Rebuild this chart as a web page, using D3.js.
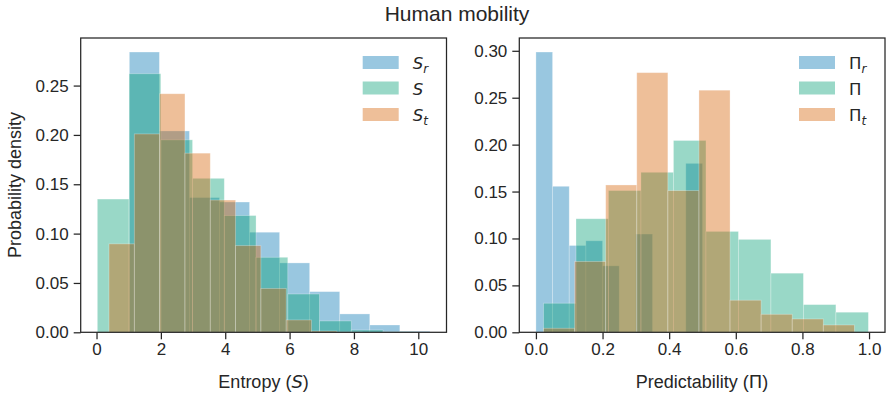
<!DOCTYPE html>
<html>
<head>
<meta charset="utf-8">
<script src="https://cdn.jsdelivr.net/npm/d3@7"></script>
<style>
  body { margin: 0; background: #fff; }
  text { fill: #262626; }
</style>
</head>
<body>
<svg id="fig" width="886" height="394"></svg>
<script>
// Series colours and legend labels (base symbol + subscript)
const seriesColors = ["#0072B2", "#009E73", "#D55E00"];
const entropyLegendBase = ["S", "S", "S"];
const entropyLegendSub = ["r", "", "t"];
const predLegendBase = ["\u03A0", "\u03A0", "\u03A0"];
const predLegendSub = ["r", "", "t"];

// Entropy histograms: [first edge, last edge] and fraction of users per bin
const entropySrRange = [1.02, 10.36];
const entropySrHeights = [0.284, 0.204, 0.1365, 0.132, 0.1014, 0.0703, 0.0412, 0.0186, 0.0074, 0.001];
const entropySRange = [0.025, 9.89];
const entropySHeights = [0.135, 0.262, 0.195, 0.156, 0.1183, 0.076, 0.0388, 0.0115, 0.0023, 0.0005];
const entropyStRange = [0.388, 8.255];
const entropyStHeights = [0.0896, 0.201, 0.2417, 0.1815, 0.134, 0.0878, 0.0444, 0.0125, 0.0013, 0.0003];

// Predictability histograms
const predPrRange = [0.0, 0.5];
const predPrHeights = [0.2987, 0.1556, 0.0925, 0.0975, 0.0708, 0.0, 0.1047, 0.0, 0.0, 0.18];
const predPRange = [0.0228, 0.998];
const predPHeights = [0.031, 0.121, 0.151, 0.1705, 0.2044, 0.1075, 0.099, 0.063, 0.0295, 0.0214];
const predPtRange = [0.0228, 0.956];
const predPtHeights = [0.0043, 0.0755, 0.157, 0.2767, 0.151, 0.258, 0.0342, 0.0192, 0.0142, 0.0078];

// Tick values
const entropyXTicks = [0, 2, 4, 6, 8, 10];
const entropyYTicks = [0, 0.05, 0.10, 0.15, 0.20, 0.25];
const predXTicks = [0, 0.2, 0.4, 0.6, 0.8, 1.0];
const predYTicks = [0, 0.05, 0.10, 0.15, 0.20, 0.25, 0.30];

const svg = d3.select("#fig");
const ink = "#262626";
const sansFont = "Liberation Sans, Arial, sans-serif";

svg.append("text")
  .attr("x", 457).attr("y", 21)
  .attr("text-anchor", "middle")
  .style("font-family", sansFont).style("font-size", "21px")
  .text("Human mobility");

function drawPanel(cfg) {
  const { left, right, top, bottom, series, xTicks, yTicks, xFmt, yFmt } = cfg;
  const g = svg.append("g");

  const lo = d3.min(series, s => s.range[0]);
  const hi = d3.max(series, s => s.range[1]);
  const pad = (hi - lo) * 0.05;
  const x = d3.scaleLinear().domain([lo - pad, hi + pad]).range([left, right]);
  const ymax = d3.max(series, s => d3.max(s.heights)) * 1.05;
  const y = d3.scaleLinear().domain([0, ymax]).range([bottom, top]);

  series.forEach((s, i) => {
    const n = s.heights.length;
    const edges = d3.range(n + 1).map(k => s.range[0] + k * (s.range[1] - s.range[0]) / n);
    g.append("g").selectAll("rect")
      .data(s.heights)
      .join("rect")
      .attr("x", (h, k) => x(edges[k]))
      .attr("width", (h, k) => x(edges[k + 1]) - x(edges[k]))
      .attr("y", h => y(h))
      .attr("height", h => y(0) - y(h))
      .attr("fill", seriesColors[i])
      .attr("fill-opacity", 0.4)
      .attr("stroke", "#fff")
      .attr("stroke-opacity", 0.35)
      .attr("stroke-width", 0.8);
  });

  const xAxis = g.append("g").attr("transform", `translate(0,${bottom})`)
    .call(d3.axisBottom(x).tickValues(xTicks).tickFormat(xFmt).tickSize(7).tickPadding(4));
  const yAxis = g.append("g").attr("transform", `translate(${left},0)`)
    .call(d3.axisLeft(y).tickValues(yTicks).tickFormat(yFmt).tickSize(7).tickPadding(5));
  [xAxis, yAxis].forEach(a => {
    a.select(".domain").remove();
    a.selectAll(".tick line").attr("stroke", ink).attr("stroke-width", 1.25);
    a.selectAll(".tick text")
      .style("font-family", sansFont).style("font-size", "17px").attr("fill", ink);
  });

  g.append("rect")
    .attr("x", left).attr("y", top)
    .attr("width", right - left).attr("height", bottom - top)
    .attr("fill", "none").attr("stroke", ink).attr("stroke-width", 1.25);

  // legend
  const legRows = [56, 81.5, 108];
  const lg = g.append("g");
  series.forEach((s, i) => {
    lg.append("rect")
      .attr("x", cfg.legendX).attr("y", legRows[i])
      .attr("width", 36).attr("height", 13)
      .attr("fill", seriesColors[i]).attr("fill-opacity", 0.4);
    const t = lg.append("text")
      .attr("x", cfg.legendX + 50).attr("y", legRows[i] + 13)
      .style("font-family", "DejaVu Sans, sans-serif").style("font-size", "16.5px");
    t.append("tspan").text(cfg.legendBase[i])
      .style("font-style", cfg.baseItalic ? "italic" : "normal");
    if (cfg.legendSub[i]) {
      t.append("tspan").text(cfg.legendSub[i])
        .attr("dy", 4).style("font-size", "12px").style("font-style", "italic");
    }
  });

  return { x, y };
}

drawPanel({
  left: 80.7, right: 446.5, top: 38, bottom: 332.3,
  series: [
    { range: entropySrRange, heights: entropySrHeights },
    { range: entropySRange, heights: entropySHeights },
    { range: entropyStRange, heights: entropyStHeights }
  ],
  xTicks: entropyXTicks, yTicks: entropyYTicks,
  xFmt: d3.format(".0f"), yFmt: d3.format(".2f"),
  legendX: 362.7, legendBase: entropyLegendBase, legendSub: entropyLegendSub, baseItalic: true
});

drawPanel({
  left: 519.3, right: 885, top: 38, bottom: 332.3,
  series: [
    { range: predPrRange, heights: predPrHeights },
    { range: predPRange, heights: predPHeights },
    { range: predPtRange, heights: predPtHeights }
  ],
  xTicks: predXTicks, yTicks: predYTicks,
  xFmt: d3.format(".1f"), yFmt: d3.format(".2f"),
  legendX: 799, legendBase: predLegendBase, legendSub: predLegendSub, baseItalic: false
});

// axis labels
const xl1 = svg.append("text").attr("x", 263.6).attr("y", 388).attr("text-anchor", "middle")
  .style("font-family", sansFont).style("font-size", "18px");
xl1.append("tspan").text("Entropy (");
xl1.append("tspan").text("S").style("font-family", "DejaVu Sans, sans-serif").style("font-style", "italic");
xl1.append("tspan").text(")");

const xl2 = svg.append("text").attr("x", 702).attr("y", 388).attr("text-anchor", "middle")
  .style("font-family", sansFont).style("font-size", "18px");
xl2.append("tspan").text("Predictability (");
xl2.append("tspan").text("\u03A0").style("font-family", "DejaVu Sans, sans-serif");
xl2.append("tspan").text(")");

svg.append("text")
  .attr("transform", "translate(21,185) rotate(-90)")
  .attr("text-anchor", "middle")
  .style("font-family", sansFont).style("font-size", "18px")
  .text("Probability density");
</script>
</body>
</html>
